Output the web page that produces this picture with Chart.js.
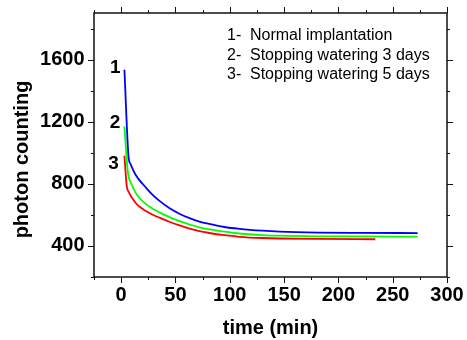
<!DOCTYPE html>
<html>
<head>
<meta charset="utf-8">
<script src="https://cdn.jsdelivr.net/npm/chart.js@4.4.1/dist/chart.umd.min.js"></script>
<style>
  body { margin: 0; background: #fff; }
</style>
</head>
<body>
<canvas id="photonChart" width="467" height="340"></canvas>
<script>
// time (min) and photon counts
const timeNormal = [3, 7, 8.5, 10, 13.6, 17, 21.5, 29, 35.3, 45, 54, 63, 72, 80, 95, 109, 130, 146, 181, 220, 273];
const countNormal = [1535, 960, 930, 905, 855, 822, 786, 729, 690, 641, 606, 579, 557, 543, 522, 510, 498, 492, 486, 484, 483];

const time3d = [3, 6.1, 9.2, 13.6, 17, 21.5, 29, 35.3, 45, 53.8, 63, 72, 80, 95, 109, 130, 146, 181, 220, 273];
const count3d = [1170, 879, 804, 740, 707, 677, 640, 616, 584, 560, 538, 520, 508, 492, 480, 470, 466, 462, 461, 460];

const time5d = [3, 5.2, 7, 9.2, 13.6, 17, 21.5, 27.7, 35.3, 45, 53.8, 63, 72, 80, 95, 109, 130, 146, 181, 234];
const count5d = [981, 783, 748, 718, 675, 652, 630, 606, 582, 554, 532, 512, 496, 485, 469, 459, 451, 448, 445, 443];

const seriesNames = ['Normal implantation', 'Stopping watering 3 days', 'Stopping watering 5 days'];
const xTicks = [0, 50, 100, 150, 200, 250, 300];
const yTicks = [400, 800, 1200, 1600];

const colors = ['#0000ff', '#00ff00', '#ff0000'];
// curve numbers, placed in data coordinates next to each curve start
const curveTags = [
  { text: '1', t: -5.3, v: 1545 },
  { text: '2', t: -5.7, v: 1190 },
  { text: '3', t: -7.1, v: 926 }
];

Chart.defaults.font.family = 'Arial, "Liberation Sans", sans-serif';
Chart.defaults.color = '#000';

function toPoints(times, counts) {
  return times.map((t, i) => ({ x: t, y: counts[i] }));
}

const framePlugin = {
  id: 'frame',
  afterDraw(chart) {
    const { ctx, chartArea: a, scales: { x, y } } = chart;
    ctx.save();
    ctx.strokeStyle = '#111';
    ctx.lineWidth = 1.5;
    ctx.strokeRect(a.left, a.top, a.right - a.left, a.bottom - a.top);

    // outward ticks on all four sides, major ones longer
    ctx.lineWidth = 1;
    ctx.beginPath();
    for (let v = -25; v <= 300; v += 25) {
      const px = Math.round(x.getPixelForValue(v)) + 0.5;
      const len = v % 50 === 0 ? 6 : 3;
      ctx.moveTo(px, a.bottom); ctx.lineTo(px, a.bottom + len);
      ctx.moveTo(px, a.top); ctx.lineTo(px, a.top - len);
    }
    for (let v = 200; v <= 1900; v += 200) {
      const py = Math.round(y.getPixelForValue(v)) + 0.5;
      const len = v % 400 === 0 ? 6 : 3;
      ctx.moveTo(a.left, py); ctx.lineTo(a.left - len, py);
      ctx.moveTo(a.right, py); ctx.lineTo(a.right + len, py);
    }
    ctx.stroke();

    // legend, text only
    ctx.fillStyle = '#000';
    ctx.font = '16px Arial, "Liberation Sans", sans-serif';
    ctx.textAlign = 'left';
    ctx.textBaseline = 'alphabetic';
    seriesNames.forEach((name, i) => {
      const by = a.top + 27 + i * 19.7;
      ctx.fillText((i + 1) + '-', a.left + 133, by);
      ctx.fillText(name, a.left + 156, by);
    });

    // curve numbers
    ctx.font = 'bold 19px Arial, "Liberation Sans", sans-serif';
    ctx.textAlign = 'center';
    ctx.textBaseline = 'middle';
    curveTags.forEach(tag => {
      ctx.fillText(tag.text, x.getPixelForValue(tag.t), y.getPixelForValue(tag.v));
    });

    // y axis title
    ctx.font = 'bold 20px Arial, "Liberation Sans", sans-serif';
    ctx.textBaseline = 'alphabetic';
    ctx.translate(27.5, 159.5);
    ctx.rotate(-Math.PI / 2);
    ctx.fillText('photon counting', 0, 0);
    ctx.restore();
  }
};

const lineStyle = {
  pointRadius: 0,
  borderWidth: 1.8,
  fill: false,
  cubicInterpolationMode: 'monotone'
};

new Chart(document.getElementById('photonChart'), {
  type: 'line',
  data: {
    datasets: [
      Object.assign({ label: seriesNames[0], data: toPoints(timeNormal, countNormal), borderColor: colors[0] }, lineStyle),
      Object.assign({ label: seriesNames[1], data: toPoints(time3d, count3d), borderColor: colors[1] }, lineStyle),
      Object.assign({ label: seriesNames[2], data: toPoints(time5d, count5d), borderColor: colors[2] }, lineStyle)
    ]
  },
  options: {
    responsive: false,
    animation: false,
    layout: { padding: { top: 13, right: 20, left: 0, bottom: 0 } },
    plugins: {
      legend: { display: false },
      tooltip: { enabled: false }
    },
    scales: {
      x: {
        type: 'linear',
        min: -25,
        max: 300,
        afterBuildTicks: s => { s.ticks = xTicks.map(v => ({ value: v })); },
        afterFit: s => { s.height = 63; s.paddingLeft = 0; s.paddingRight = 0; },
        grid: { display: false, drawTicks: false },
        border: { display: false },
        ticks: {
          padding: 6,
          maxRotation: 0,
          autoSkip: false,
          font: { size: 20, weight: 'bold' },
          callback: v => String(v)
        },
        title: {
          display: true,
          text: 'time (min)',
          font: { size: 20, weight: 'bold' },
          padding: { top: 0, bottom: 0 }
        }
      },
      y: {
        type: 'linear',
        min: 200,
        max: 1900,
        afterBuildTicks: s => { s.ticks = yTicks.map(v => ({ value: v })); },
        afterFit: s => { s.width = 94; s.paddingTop = 0; s.paddingBottom = 0; },
        grid: { display: false, drawTicks: false },
        border: { display: false },
        ticks: {
          padding: 9.5,
          autoSkip: false,
          font: { size: 20, weight: 'bold' },
          callback: v => String(v)
        }
      }
    }
  },
  plugins: [framePlugin]
});
</script>
</body>
</html>
